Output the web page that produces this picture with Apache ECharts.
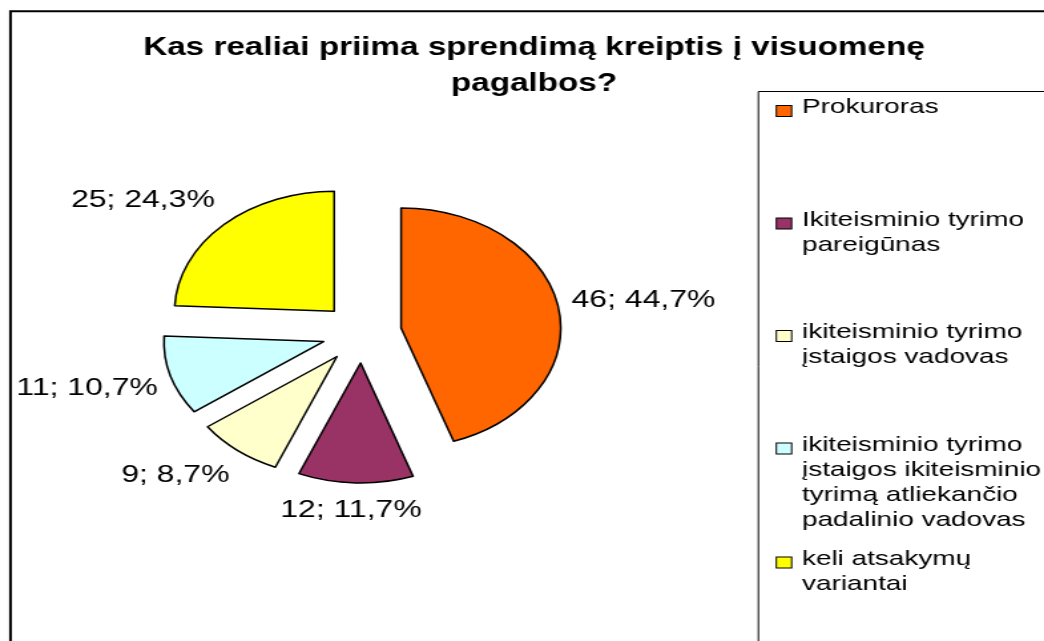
<!DOCTYPE html>
<html>
<head>
<meta charset="utf-8">
<script src="https://cdn.jsdelivr.net/npm/echarts@6/dist/echarts.min.js"></script>
<style>
html,body{margin:0;padding:0;background:#fff;overflow:hidden;}
#chart{width:785px;height:641px;transform:scaleX(1.33);transform-origin:0 0;}
</style>
</head>
<body>
<div id="chart"></div>
<script>
// ---- data ----
const titleText = 'Kas realiai priima sprendimą kreiptis į visuomenę\npagalbos?';
const categories = [
  'Prokuroras',
  'Ikiteisminio tyrimo\npareigūnas',
  'ikiteisminio tyrimo\nįstaigos vadovas',
  'ikiteisminio tyrimo\nįstaigos ikiteisminio\ntyrimą atliekančio\npadalinio vadovas',
  'keli atsakymų\nvariantai'
];
const values = [46, 12, 9, 11, 25];
const colors = ['#FF6600', '#993366', '#FFFFCC', '#CCFFFF', '#FFFF00'];

// ---- layout constants (unstretched space) ----
const FONT = 'Liberation Sans, Arial, sans-serif';
const CX = 272, CY = 333, R = 120, EXPLODE = 30, LABEL_GAP = 10;

const total = values.reduce((a, b) => a + b, 0);
function midDir(i) {
  let acc = 0;
  for (let k = 0; k < i; k++) acc += values[k];
  const a = (acc + values[i] / 2) / total * Math.PI * 2;
  return [Math.sin(a), -Math.cos(a)];
}
const clamp = v => Math.max(-1, Math.min(1, v));
const pctText = v => (v / total * 100).toFixed(1).replace('.', ',');

const rich = {
  g: { width: 8.3, lineHeight: 25 },
  ind: { width: 18.8, lineHeight: 25 },
  b: { fontSize: 21, lineHeight: 25 },
  t: { fontSize: 21, lineHeight: 25, color: '#000', fontFamily: FONT, padding: [0, 0, 7, 0] }
};
colors.forEach((c, i) => {
  rich['sq' + i] = { width: 10.5, height: 10, backgroundColor: c, borderColor: '#000', borderWidth: 1, lineHeight: 25 };
});

const chart = echarts.init(document.getElementById('chart'), null, { renderer: 'canvas' });
chart.setOption({
  animation: false,
  backgroundColor: '#fff',
  title: {
    text: titleText,
    left: 401.5,
    top: 29.75,
    padding: 0,
    textAlign: 'center',
    textStyle: { fontSize: 25, fontWeight: 'bold', color: '#000', fontFamily: FONT, lineHeight: 36.5 }
  },
  graphic: [
    { type: 'rect', z: -1, shape: { x: 7.9, y: 11.3, width: 1000, height: 1000 }, style: { fill: 'none', stroke: '#000', lineWidth: 2 } },
    { type: 'rect', z: -1, shape: { x: 570.2, y: 91.5, width: 500, height: 800 }, style: { fill: 'none', stroke: '#000', lineWidth: 1 } }
  ],
  legend: {
    orient: 'vertical',
    left: 579.2,
    top: 97,
    padding: 0,
    itemGap: 11,
    itemWidth: 0,
    itemHeight: 0,
    icon: 'none',
    selectedMode: false,
    data: categories,
    textStyle: { fontSize: 21, fontFamily: FONT, color: '#000', lineHeight: 25, rich: rich },
    formatter: function (name) {
      const i = categories.indexOf(name);
      const lines = name.split('\n');
      const out = [];
      lines.forEach((ln, k) => {
        out.push((k === 0 ? '{sq' + i + '| }{g| }' : '{ind| }') + '{t|' + ln + '}');
      });
      if (i < categories.length - 1) {
        while (out.length < 4) out.push('{b| }');
      }
      return out.join('\n');
    }
  },
  series: [{
    // exploded slices
    type: 'pie',
    center: [CX, CY],
    radius: R,
    startAngle: 90,
    clockwise: true,
    selectedMode: 'multiple',
    selectedOffset: EXPLODE,
    emphasis: { disabled: true, scale: false },
    itemStyle: { borderColor: '#000', borderWidth: 1.5 },
    select: { itemStyle: { borderColor: '#000', borderWidth: 1.5 } },
    label: { show: false },
    labelLine: { show: false },
    data: categories.map((n, i) => ({
      name: n,
      value: values[i],
      selected: true,
      itemStyle: { color: colors[i] }
    }))
  }, {
    // data labels (same slices, transparent), placed outside each exploded slice
    type: 'pie',
    center: [CX, CY],
    radius: R,
    startAngle: 90,
    clockwise: true,
    silent: true,
    selectedMode: false,
    avoidLabelOverlap: false,
    emphasis: { disabled: true, scale: false },
    itemStyle: { color: 'rgba(0,0,0,0)', borderWidth: 0 },
    label: {
      show: true,
      position: 'outside',
      fontSize: 24,
      fontFamily: FONT,
      color: '#000',
      formatter: p => p.value + '; ' + pctText(p.value) + '%'
    },
    labelLine: { show: false },
    labelLayout: function (p) {
      const i = p.dataIndex;
      const d = midDir(i);
      const ex = CX + EXPLODE * d[0], ey = CY + EXPLODE * d[1];
      const px = ex + (R + LABEL_GAP) * d[0], py = ey + (R + LABEL_GAP) * d[1];
      const w = p.labelRect.width, h = p.labelRect.height + 10;
      return {
        x: px + clamp(2 * d[0]) * w / 2,
        y: py + clamp(2 * d[1]) * h / 2,
        align: 'center',
        verticalAlign: 'middle'
      };
    },
    data: categories.map((n, i) => ({ name: n, value: values[i] }))
  }]
});
</script>
</body>
</html>
